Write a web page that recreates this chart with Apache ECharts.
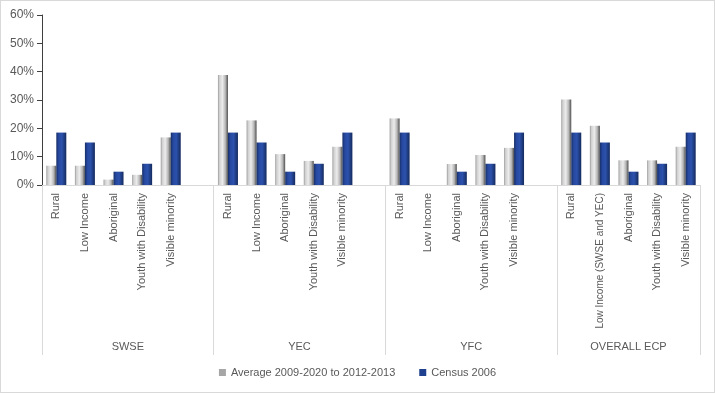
<!DOCTYPE html>
<html>
<head>
<meta charset="utf-8">
<script src="https://cdn.jsdelivr.net/npm/echarts@6/dist/echarts.min.js"></script>
<style>
html,body{margin:0;padding:0;background:#fff;}
#c{width:715px;height:393px;box-sizing:border-box;border:1px solid #d9d9d9;}
</style>
</head>
<body>
<div id="c"></div>
<script>
const groups = ['SWSE', 'YEC', 'YFC', 'OVERALL ECP'];
const subSWSE = ['Rural', 'Low Income', 'Aboriginal', 'Youth with Disability', 'Visible minority'];
const subYEC = ['Rural', 'Low Income', 'Aboriginal', 'Youth with Disability', 'Visible minority'];
const subYFC = ['Rural', 'Low Income', 'Aboriginal', 'Youth with Disability', 'Visible minority'];
const subECP = ['Rural', 'Low Income (SWSE and YEC)', 'Aboriginal', 'Youth with Disability', 'Visible minority'];

const avgSWSE = [0.068, 0.068, 0.019, 0.036, 0.168];
const avgYEC = [0.388, 0.228, 0.109, 0.085, 0.135];
const avgYFC = [0.235, null, 0.074, 0.106, 0.131];
const avgECP = [0.302, 0.209, 0.087, 0.087, 0.135];

const cenSWSE = [0.185, 0.150, 0.047, 0.075, 0.185];
const cenYEC = [0.185, 0.150, 0.047, 0.075, 0.185];
const cenYFC = [0.185, null, 0.047, 0.075, 0.185];
const cenECP = [0.185, 0.150, 0.047, 0.075, 0.185];

const yTicks = [0, 0.1, 0.2, 0.3, 0.4, 0.5, 0.6];
const seriesNames = ['Average 2009-2020 to 2012-2013', 'Census 2006'];

// Build flat category list: each group followed by an empty slot (except last)
const subs = [subSWSE, subYEC, subYFC, subECP];
const avgs = [avgSWSE, avgYEC, avgYFC, avgECP];
const cens = [cenSWSE, cenYEC, cenYFC, cenECP];
const cats = [], avgData = [], cenData = [];
const groupBounds = [0], groupCenters = [];
subs.forEach((s, gi) => {
  const start = cats.length;
  s.forEach((name, i) => { cats.push(name); avgData.push(avgs[gi][i]); cenData.push(cens[gi][i]); });
  if (gi < subs.length - 1) { cats.push(''); avgData.push(null); cenData.push(null); }
  groupBounds.push(cats.length);
  groupCenters.push((start + cats.length) / 2);
});

const font = 'Liberation Sans, Arial, sans-serif';
const txt = '#595959';

const grayGrad = new echarts.graphic.LinearGradient(0, 0, 1, 0, [
  {offset: 0, color: '#9a9a9a'}, {offset: 0.15, color: '#d0d0d0'},
  {offset: 0.45, color: '#ececec'}, {offset: 0.75, color: '#b5b5b5'},
  {offset: 1, color: '#4d4d4d'}]);
const blueGrad = new echarts.graphic.LinearGradient(0, 0, 1, 0, [
  {offset: 0, color: '#172f66'}, {offset: 0.25, color: '#2648a0'},
  {offset: 0.55, color: '#2c52ad'}, {offset: 1, color: '#152b5e'}]);

const chart = echarts.init(document.getElementById('c'), null, {renderer: 'canvas'});
chart.setOption({
  animation: false,
  textStyle: {fontFamily: font},
  legend: {
    bottom: 9, left: 'center', itemWidth: 7, itemHeight: 7, itemGap: 24,
    icon: 'rect',
    textStyle: {color: txt, fontSize: 11, fontFamily: font},
    data: [{name: seriesNames[0], itemStyle: {color: '#a6a6a6'}}, {name: seriesNames[1], itemStyle: {color: '#1f3f8f'}}]
  },
  grid: {left: 41, right: 14, top: 14, bottom: 207, containLabel: false},
  xAxis: [{
    type: 'category', data: cats,
    axisLine: {show: true, lineStyle: {color: '#d9d9d9'}},
    axisTick: {show: false},
    axisLabel: {rotate: 90, interval: 0, color: txt, fontSize: 11, fontFamily: font, margin: 8,
      formatter: v => v.length > 22 ? '{s|' + v + '}' : v,
      rich: {s: {fontSize: 10, color: txt, fontFamily: font}}}
  }, {
    type: 'value', min: 0, max: cats.length, position: 'bottom',
    axisLine: {show: false},
    splitLine: {show: false},
    axisTick: {show: true, customValues: groupBounds, length: 170, lineStyle: {color: '#d9d9d9'}},
    axisLabel: {
      customValues: groupCenters, margin: 156, color: txt, fontSize: 11, fontFamily: font,
      formatter: v => { const i = groupCenters.indexOf(v); return i >= 0 ? groups[i] : ''; }
    }
  }],
  yAxis: {
    type: 'value', min: yTicks[0], max: yTicks[yTicks.length - 1], interval: 0.1,
    axisLine: {show: true, lineStyle: {color: '#404040'}},
    axisTick: {show: true, length: 5, lineStyle: {color: '#404040'}},
    splitLine: {show: false},
    axisLabel: {color: txt, fontSize: 12, fontFamily: font, margin: 8,
      formatter: v => Math.round(v * 100) + '%'}
  },
  series: [{
    name: seriesNames[0], type: 'bar', xAxisIndex: 0, data: avgData,
    barWidth: 10, barGap: '0%', itemStyle: {color: grayGrad}
  }, {
    name: seriesNames[1], type: 'bar', xAxisIndex: 0, data: cenData,
    barWidth: 10, barGap: '0%', itemStyle: {color: blueGrad}
  }]
});
</script>
</body>
</html>
